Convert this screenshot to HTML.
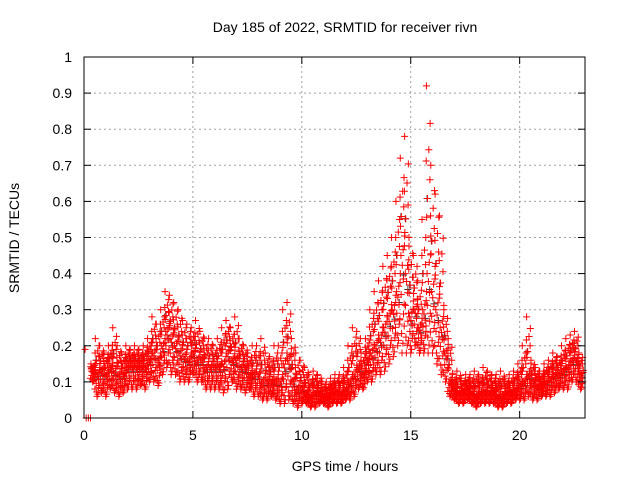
<!DOCTYPE html>
<html><head><meta charset="utf-8"><style>
body{margin:0;background:#fff}
text{font-family:"Liberation Sans",sans-serif;font-size:14px;fill:#000}
</style></head><body>
<svg id="chart" width="640" height="480" xmlns="http://www.w3.org/2000/svg">
<text x="345" y="32" text-anchor="middle">Day 185 of 2022, SRMTID for receiver rivn</text>
<text x="345" y="471" text-anchor="middle">GPS time / hours</text>
<text transform="translate(19,238) rotate(-90)" text-anchor="middle">SRMTID / TECUs</text>
<g id="grid"></g><g id="marks"></g><g id="axes"></g>
</svg>
<script>
const xTicks=[0,5,10,15,20];
const yTicks=[0,0.1,0.2,0.3,0.4,0.5,0.6,0.7,0.8,0.9,1];
const yTickLabels=["0","0.1","0.2","0.3","0.4","0.5","0.6","0.7","0.8","0.9","1"];
const tStart=0.4, tStep=0.2;
const hiVals=[.15,.22,.2,.18,.2,.25,.2,.18,.2,.19,
.2,.19,.2,.22,.28,.26,.3,.35,
.34,.32,.3,.27,.26,.25,.27,.24,.22,.22,
.2,.22,.25,.27,.25,.28,.22,.2,.18,.2,
.2,.22,.18,.17,.2,.2,.3,.32,.22,.18,
.16,.14,.12,.13,.12,.1,.1,.11,.12,.12,
.14,.2,.25,.24,.18,.22,.3,.35,.38,.42,
.45,.5,.6,.72,.78,.5,.45,.38,.55,.92,
.7,.62,.56,.3,.22,.12,.13,.11,.12,.12,
.13,.12,.14,.13,.12,.12,.13,.11,.12,.13,
.15,.2,.28,.16,.14,.13,.15,.16,.18,.17,
.2,.22,.23,.24,.18];
const loVals=[.1,.06,.07,.06,.08,.07,.06,.07,.08,.08,
.08,.09,.08,.1,.1,.09,.12,.14,
.12,.12,.1,.1,.1,.12,.1,.1,.08,.08,
.08,.08,.07,.08,.1,.08,.08,.07,.08,.06,
.06,.05,.05,.06,.05,.04,.04,.05,.04,.03,
.04,.04,.03,.03,.04,.04,.03,.04,.04,.04,
.05,.05,.06,.08,.08,.1,.1,.12,.12,.13,
.15,.17,.2,.18,.18,.18,.2,.18,.18,.18,
.18,.15,.12,.1,.06,.05,.04,.04,.05,.04,
.03,.04,.04,.04,.04,.03,.03,.04,.04,.05,
.05,.05,.06,.05,.05,.06,.06,.06,.07,.08,
.08,.08,.1,.1,.08];
const midVals=[.13,.12,.13,.12,.14,.13,.12,.12,.14,.14,
.14,.14,.14,.16,.18,.16,.2,.24,
.22,.2,.18,.17,.16,.18,.16,.16,.14,.14,
.14,.14,.15,.18,.16,.16,.14,.14,.12,.12,
.12,.1,.1,.1,.1,.1,.15,.16,.1,.08,
.08,.07,.06,.07,.07,.06,.06,.07,.07,.07,
.08,.1,.12,.14,.12,.16,.18,.2,.22,.25,
.28,.3,.35,.45,.4,.28,.3,.25,.3,.4,
.35,.3,.25,.18,.1,.08,.07,.07,.08,.07,
.06,.07,.07,.07,.07,.06,.06,.07,.07,.08,
.09,.1,.12,.1,.09,.09,.1,.11,.12,.12,
.13,.14,.16,.16,.12];
const extraT=[0.05,0.1,0.2,0.3];
const extraV=[0.19,0,0,0];
const X0=84,X1=585,Y0=418,Y1=57,XMAX=23;
const sx=t=>X0+t*(X1-X0)/XMAX, sy=v=>Y0-v*(Y0-Y1);
const NS="http://www.w3.org/2000/svg";
function mk(tag,attrs,parent){const e=document.createElementNS(NS,tag);for(const k in attrs)e.setAttribute(k,attrs[k]);parent.appendChild(e);return e;}
const grid=document.getElementById('grid'),axes=document.getElementById('axes'),marks=document.getElementById('marks');
yTicks.forEach((v,i)=>{const y=sy(v);
 if(i>0&&i<yTicks.length-1){const g=mk('line',{x1:X0,x2:X1,y1:y,y2:y,stroke:'#a0a0a0','stroke-dasharray':'2,3'},grid);
 
 }
 mk('line',{x1:X0,x2:X0+7,y1:y,y2:y,stroke:'#000'},axes);
 mk('line',{x1:X1,x2:X1-7,y1:y,y2:y,stroke:'#000'},axes);
 const t=mk('text',{x:X0-12,y:y+5,'text-anchor':'end'},axes);t.textContent=yTickLabels[i];
 
 
});
xTicks.forEach(v=>{const x=sx(v);
 if(v>0){const g=mk('line',{x1:x,x2:x,y1:Y0,y2:Y1,stroke:'#a0a0a0','stroke-dasharray':'2,3'},grid);
 
 }
 mk('line',{x1:x,x2:x,y1:Y0,y2:Y0-7,stroke:'#000'},axes);
 mk('line',{x1:x,x2:x,y1:Y1,y2:Y1+7,stroke:'#000'},axes);
 const t=mk('text',{x:x,y:Y0+22,'text-anchor':'middle'},axes);t.textContent=String(v);
 
 
});
const box=mk('rect',{x:X0,y:Y1,width:X1-X0,height:Y0-Y1,fill:'none',stroke:'#000'},axes);


let d='',dk='';
const plus=(t,v)=>{const x=sx(t),y=sy(v);return `M${x-3.5},${y}h7M${x},${y-3.5}v7`;};
const fr=[[0,0],[0.1,0.25],[-0.05,0.5],[0.05,0.53],[0.08,0.75],[-0.08,1],[0.12,0.6],[-0.1,0.17],[0.03,0.83],
[-0.02,0.1],[0.06,0.38],[-0.07,0.65],[0.09,0.9],[-0.04,0.3],[0.01,0.45],[-0.09,0.8],[0.04,0.05],[0.11,0.55],[-0.03,0.7],[0.07,0.2]];
for(let i=0;i<hiVals.length;i++){
 const t=tStart+i*tStep,lo=loVals[i],mi=midVals[i],hi=hiVals[i];
 const val=f=>f<=0.5?lo+(mi-lo)*f*2:mi+(hi-mi)*(f-0.5)*2;
 dk+=plus(t+0.07,val(0.4))+plus(t-0.05,val(0.7));
 fr.forEach(p=>{d+=plus(t+p[0],val(p[1]));});
}
extraT.forEach((t,i)=>{d+=plus(t,extraV[i]);});
const pk=mk('path',{d:dk,stroke:'#333','stroke-width':1,fill:'none'},marks);


const pr=mk('path',{d:d,stroke:'#ff0000','stroke-width':1,fill:'none'},marks);


</script>
</body></html>
